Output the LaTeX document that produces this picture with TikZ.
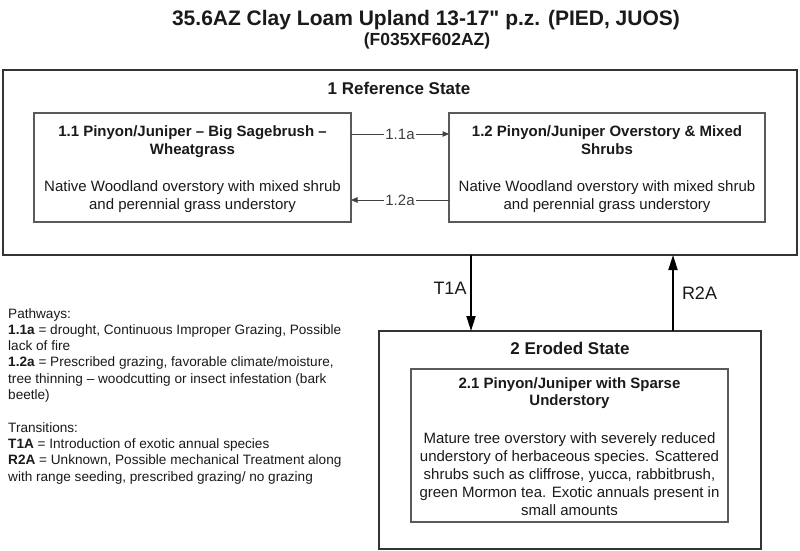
\documentclass[tikz,border=0pt]{standalone}
\usepackage{fontspec}
\setmainfont{Liberation Sans}
\newfontfamily\plainsans{Liberation Sans}
\usetikzlibrary{arrows.meta}
\definecolor{txt}{HTML}{1A1A1A}
\definecolor{lbltxt}{HTML}{404040}
\definecolor{outerln}{HTML}{333333}
\definecolor{innerln}{HTML}{5A5A5A}
\begin{document}
\begin{tikzpicture}[x=1pt,y=-1pt,
  outerbox/.style={draw=outerln,line width=1.8pt,inner sep=0,outer sep=0},
  innerbox/.style={draw=innerln,line width=1.2pt,inner sep=0,outer sep=0},
  ttl/.style={font=\bfseries\fontsize{15}{17.5}\selectfont,text=txt,align=center,inner sep=0},
  bdy/.style={font=\fontsize{15}{18}\selectfont,text=txt,align=center,inner sep=0},
  statettl/.style={font=\bfseries\fontsize{17}{20}\selectfont,text=txt,inner sep=0},
  lbl/.style={font=\fontsize{15}{18}\selectfont,text=lbltxt,fill=white,inner sep=1.5pt},
  tlbl/.style={font=\fontsize{18}{20}\selectfont,text=txt,inner sep=0},
  patharrow/.style={draw=lbltxt,line width=1pt,-{Triangle[length=6.5pt,width=5.5pt]}},
  bigarrow/.style={draw=black,line width=1.8pt,-{Triangle[length=15pt,width=9pt]}},
  legend/.style={font=\fontsize{13.6}{16.3}\selectfont,text=txt,align=left,inner sep=0}]
\useasboundingbox (0,0) rectangle (800,551);
\fill[white] (0,0) rectangle (800,551);

% titles
\node[font=\plainsans\bfseries\fontsize{21}{24}\selectfont,text=txt,anchor=north,inner sep=0] (title) at (426,10)
  {35.6AZ Clay Loam Upland 13-17" p.z. (PIED, JUOS)};
\node[font=\bfseries\fontsize{17.5}{20}\selectfont,text=txt,anchor=north,inner sep=0] (subtitle) at (427,33)
  {(F035XF602AZ)};

% state 1
\node[outerbox,minimum width=794pt,minimum height=185pt] (rs) at (400,162.5) {};
\node[statettl,anchor=north] (rst) at (399,82) {1 Reference State};
\node[innerbox,minimum width=317pt,minimum height=109pt] (s11) at (192.5,167.5) {};
\node[ttl,anchor=north] (s11t) at (192.5,125.5) {1.1 Pinyon/Juniper – Big Sagebrush –\\Wheatgrass};
\node[bdy,anchor=north] (s11b) at (192.5,180) {Native Woodland overstory with mixed shrub\\and perennial grass understory};
\node[innerbox,minimum width=316pt,minimum height=109pt] (s12) at (607,167.5) {};
\node[ttl,anchor=north] (s12t) at (607,125.5) {1.2 Pinyon/Juniper Overstory \& Mixed\\Shrubs};
\node[bdy,anchor=north] (s12b) at (607,180) {Native Woodland overstory with mixed shrub\\and perennial grass understory};

% pathways
\coordinate (pa) at (0,134);
\coordinate (pb) at (0,200);
\draw[patharrow] (s11.east |- pa) -- node[lbl] (l11a) {1.1a} (s12.west |- pa);
\draw[patharrow] (s12.west |- pb) -- node[lbl] (l12a) {1.2a} (s11.east |- pb);

% state 2
\node[outerbox,minimum width=382pt,minimum height=218pt] (es) at (570,440) {};
\node[statettl,anchor=north] (est) at (570,342) {2 Eroded State};
\node[innerbox,minimum width=317pt,minimum height=153pt] (s21) at (569.5,445.5) {};
\node[ttl,anchor=north] (s21t) at (569.5,377) {2.1 Pinyon/Juniper with Sparse\\Understory};
\node[bdy,anchor=north] (s21b) at (569.5,432) {Mature tree overstory with severely reduced\\understory of herbaceous species. Scattered\\shrubs such as cliffrose, yucca, rabbitbrush,\\green Mormon tea. Exotic annuals present in\\small amounts};

% transitions
\coordinate (tx) at (471,0);
\coordinate (rx) at (673,0);
\draw[bigarrow] (rs.south -| tx) -- (es.north -| tx);
\draw[bigarrow] (es.north -| rx) -- (rs.south -| rx);
\node[tlbl] (t1a) at (450,288.5) {T1A};
\node[tlbl] (r2a) at (699.5,293) {R2A};

% legend
\node[legend,anchor=north west] (leg) at (8,308) {Pathways:\\
\textbf{1.1a} = drought, Continuous Improper Grazing, Possible\\
lack of fire\\
\textbf{1.2a} = Prescribed grazing, favorable climate/moisture,\\
tree thinning – woodcutting or insect infestation (bark\\
beetle)\\[16.3pt]
Transitions:\\
\textbf{T1A} = Introduction of exotic annual species\\
\textbf{R2A} = Unknown, Possible mechanical Treatment along\\
with range seeding, prescribed grazing/ no grazing};
\end{tikzpicture}
\end{document}
